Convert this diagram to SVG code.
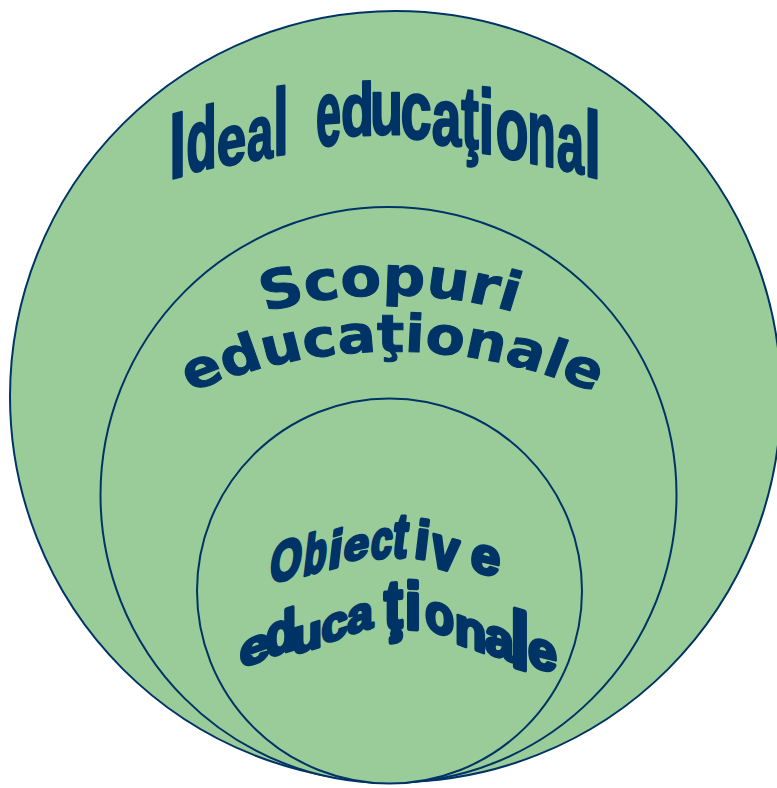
<svg xmlns="http://www.w3.org/2000/svg" xmlns:xlink="http://www.w3.org/1999/xlink" width="777" height="788" viewBox="0 0 777 788">
<style>
.c{fill:#99CC99;stroke:#003366;stroke-width:2}
.w{font-family:"Liberation Sans",Arial,sans-serif;font-weight:bold;font-size:100px;fill:#003366;stroke:#003366;stroke-width:3;stroke-linejoin:round;text-anchor:middle}
.w3{font-family:"Liberation Sans",Arial,sans-serif;font-weight:bold;font-size:100px;fill:#003366;stroke:#003366;stroke-width:7;stroke-linejoin:round;text-anchor:middle}
.s{font-family:"DejaVu Sans",sans-serif;font-weight:bold;fill:#003366;stroke:#003366;stroke-width:1;stroke-linejoin:round;text-anchor:middle}
</style>
<defs>
<path id="p1" d="M 267.3 315 A 427.3 470 0 0 1 512.7 315"/>
<path id="p2" d="M 199.1 397 A 472.7 520 0 0 1 585.5 397"/>
</defs>
<rect width="777" height="788" fill="#ffffff"/>
<g id="ideal">
<circle class="c" cx="395.5" cy="396.5" r="385.5"/>
<text class="w" transform="matrix(0.6 -0.15 0 0.93 177.5 177.2)">I</text>
<text class="w" transform="matrix(0.5 -0.11 0 0.88 201.5 170)">d</text>
<text class="w" transform="matrix(0.53 -0.097 0 0.71 231.5 164.5)">e</text>
<text class="w" transform="matrix(0.47 -0.07 0 0.77 260 159.2)">a</text>
<text class="w" transform="matrix(0.55 -0.069 0 0.94 281 154.5)">l</text>
<text class="w" transform="matrix(0.45 -0.031 0 0.93 328.5 145.2)">e</text>
<text class="w" transform="matrix(0.54 -0.018 0 0.745 357.5 135.5)">d</text>
<text class="w" transform="matrix(0.54 0 0 0.78 386.5 134)">u</text>
<text class="w" transform="matrix(0.56 0.021 0 0.82 416 138.5)">c</text>
<text class="w" transform="matrix(0.53 0.039 0 0.8 446.5 145)">a</text>
<text class="w" transform="matrix(0.53 0.054 0 0.88 470 148.2)">ţ</text>
<text class="w" transform="matrix(0.55 0.067 0 0.91 486.5 153.5)">i</text>
<text class="w" transform="matrix(0.535 0.081 0 0.88 512 158.7)">o</text>
<text class="w" transform="matrix(0.46 0.086 0 0.925 541.5 164.8)">n</text>
<text class="w" transform="matrix(0.49 0.109 0 0.845 570.5 171.2)">a</text>
<text class="w" transform="matrix(0.6 0.15 0 0.93 592.5 177.2)">l</text>
</g>
<g id="scopuri">
<circle class="c" cx="388.5" cy="495" r="288"/>
<g transform="matrix(1.1 0 0 1 -39 0)">
<text class="s" font-size="54"><textPath xlink:href="#p1" href="#p1" startOffset="50%">Scopuri</textPath></text>
<text class="s" font-size="52"><textPath xlink:href="#p2" href="#p2" startOffset="50%">educaţionale</textPath></text>
</g>
</g>
<g id="obiective">
<circle class="c" cx="389.5" cy="591" r="192.5"/>
<text class="w3" transform="matrix(0.4 -0.096 -0.068 0.57 284 579.4)">O</text>
<text class="w3" transform="matrix(0.37 -0.111 -0.068 0.57 313.5 572.7)">b</text>
<text class="w3" transform="matrix(0.48 -0.144 -0.061 0.53 334 567.8)">i</text>
<text class="w3" transform="matrix(0.45 -0.099 -0.053 0.44 355 559.5)">e</text>
<text class="w3" transform="matrix(0.38 -0.038 -0.064 0.53 380 558)">c</text>
<text class="w3" transform="matrix(0.42 0 -0.074 0.62 398.5 557)">t</text>
<text class="w3" transform="matrix(0.5 0.075 -0.062 0.53 420.5 558.2)">i</text>
<text class="w3" transform="matrix(0.47 0.132 -0.07 0.58 443 569)">v</text>
<text class="w3" transform="matrix(0.52 0.125 -0.059 0.5 484 573.4)">e</text>
<text class="w3" transform="matrix(0.55 -0.193 0 0.48 255 663)">e</text>
<text class="w3" transform="matrix(0.5 -0.15 0 0.58 281 653)">d</text>
<text class="w3" transform="matrix(0.5 -0.15 0 0.48 307 650.5)">u</text>
<text class="w3" transform="matrix(0.47 -0.165 0 0.48 334.5 640)">c</text>
<text class="w3" transform="matrix(0.46 -0.138 0 0.48 360 631)">a</text>
<text class="w3" transform="matrix(0.55 -0.055 0 0.68 393.5 628)">ţ</text>
<text class="w3" transform="matrix(0.58 0.029 0 0.66 413 629)">i</text>
<text class="w3" transform="matrix(0.47 0.141 0 0.54 439.5 633)">o</text>
<text class="w3" transform="matrix(0.52 0.182 0 0.53 470.5 648)">n</text>
<text class="w3" transform="matrix(0.52 0.182 0 0.53 499.5 657)">a</text>
<text class="w3" transform="matrix(0.68 0.204 0 0.79 520 668)">l</text>
<text class="w3" transform="matrix(0.52 0.13 0 0.53 542.5 669)">e</text>
</g>
<g id="connectors"/>
</svg>
